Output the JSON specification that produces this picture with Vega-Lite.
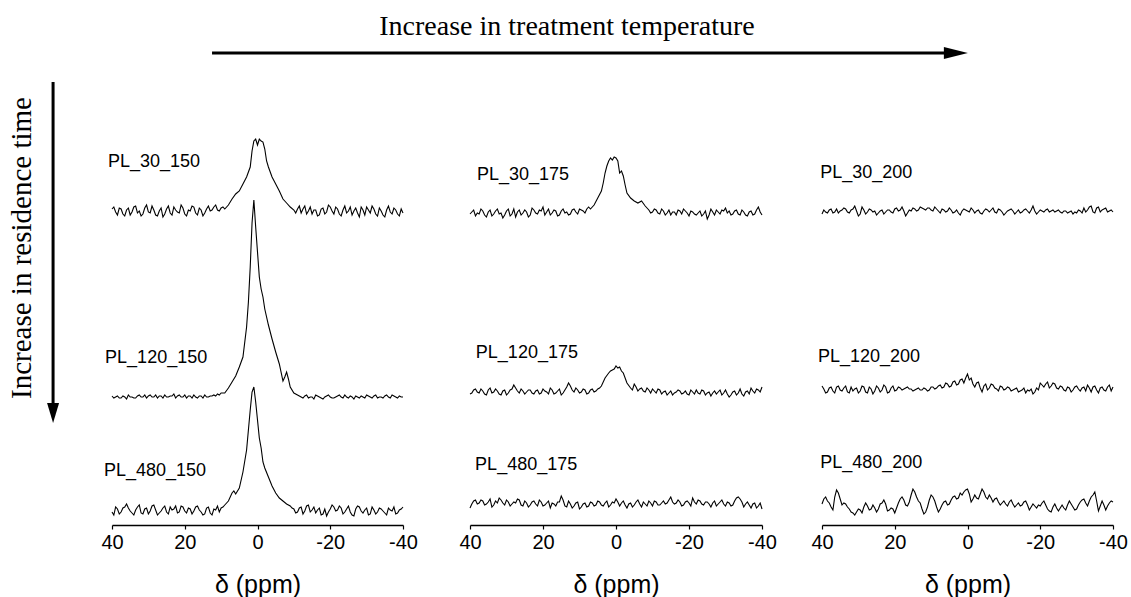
{
"$schema": "https://vega.github.io/schema/vega-lite/v6.json",
"background": "white",
"padding": {"left": 8, "top": 13, "right": 5, "bottom": 0},
"title": {"text": "Increase in treatment temperature", "font": "Liberation Serif", "fontSize": 28, "fontWeight": "normal", "color": "black", "frame": "group", "anchor": "middle", "dx": 455, "offset": -1},
"datasets": {
"PL_30_150": [{"x":40,"y":2},{"x":39,"y":-1},{"x":38,"y":3},{"x":37,"y":-3},{"x":36,"y":1},{"x":35,"y":-4},{"x":34,"y":4},{"x":33,"y":-2},{"x":32,"y":-5},{"x":31,"y":3},{"x":30,"y":-1},{"x":29,"y":5},{"x":28,"y":-4},{"x":27,"y":0},{"x":26,"y":-6},{"x":25,"y":2},{"x":24,"y":-2},{"x":23,"y":4},{"x":22,"y":-1},{"x":21,"y":6},{"x":20,"y":-3},{"x":19,"y":1},{"x":18,"y":5},{"x":17,"y":-2},{"x":16,"y":3},{"x":15,"y":-5},{"x":14,"y":2},{"x":13,"y":0},{"x":12,"y":4},{"x":11,"y":1},{"x":10,"y":3},{"x":9,"y":2},{"x":8,"y":6},{"x":7,"y":12},{"x":6,"y":17},{"x":5,"y":20},{"x":4,"y":27},{"x":3,"y":34},{"x":2,"y":44},{"x":1.5,"y":60},{"x":1,"y":70},{"x":0.5,"y":72},{"x":0,"y":66},{"x":-0.5,"y":72},{"x":-1,"y":70},{"x":-1.5,"y":69},{"x":-2,"y":62},{"x":-2.5,"y":50},{"x":-3,"y":44},{"x":-4,"y":34},{"x":-5,"y":27},{"x":-6,"y":20},{"x":-7,"y":12},{"x":-8,"y":8},{"x":-9,"y":4},{"x":-10,"y":1},{"x":-11,"y":2},{"x":-12,"y":-2},{"x":-13,"y":5},{"x":-14,"y":0},{"x":-15,"y":-3},{"x":-16,"y":1},{"x":-17,"y":-4},{"x":-18,"y":3},{"x":-19,"y":-1},{"x":-20,"y":4},{"x":-21,"y":-3},{"x":-22,"y":2},{"x":-23,"y":-5},{"x":-24,"y":5},{"x":-25,"y":0},{"x":-26,"y":-4},{"x":-27,"y":3},{"x":-28,"y":-6},{"x":-29,"y":1},{"x":-30,"y":4},{"x":-31,"y":-2},{"x":-32,"y":2},{"x":-33,"y":-5},{"x":-34,"y":0},{"x":-35,"y":-6},{"x":-36,"y":5},{"x":-37,"y":-3},{"x":-38,"y":1},{"x":-39,"y":-5},{"x":-40,"y":-2},
{"x":39.5,"y":4},{"x":38.5,"y":-4},{"x":37.5,"y":2},{"x":36.5,"y":-5},{"x":35.5,"y":3},{"x":34.5,"y":-1},{"x":33.5,"y":5},{"x":32.5,"y":0},{"x":31.5,"y":-3},{"x":30.5,"y":6},{"x":29.5,"y":-2},{"x":28.5,"y":1},{"x":27.5,"y":-5},{"x":26.5,"y":3},{"x":25.5,"y":-3},{"x":24.5,"y":5},{"x":23.5,"y":-4},{"x":22.5,"y":1},{"x":21.5,"y":-2},{"x":20.5,"y":3},{"x":19.5,"y":-5},{"x":18.5,"y":0},{"x":17.5,"y":4},{"x":16.5,"y":-4},{"x":15.5,"y":1},{"x":14.5,"y":-2},{"x":13.5,"y":5},{"x":12.5,"y":1},{"x":11.5,"y":6},{"x":10.5,"y":0},{"x":9.5,"y":4},{"x":-10.5,"y":-2},{"x":-11.5,"y":5},{"x":-12.5,"y":2},{"x":-13.5,"y":-3},{"x":-14.5,"y":4},{"x":-15.5,"y":1},{"x":-16.5,"y":-5},{"x":-17.5,"y":2},{"x":-18.5,"y":-3},{"x":-19.5,"y":6},{"x":-20.5,"y":0},{"x":-21.5,"y":4},{"x":-22.5,"y":-3},{"x":-23.5,"y":1},{"x":-24.5,"y":-2},{"x":-25.5,"y":4},{"x":-26.5,"y":0},{"x":-27.5,"y":-2},{"x":-28.5,"y":4},{"x":-29.5,"y":-4},{"x":-30.5,"y":1},{"x":-31.5,"y":5},{"x":-32.5,"y":-3},{"x":-33.5,"y":3},{"x":-34.5,"y":-4},{"x":-35.5,"y":1},{"x":-36.5,"y":-1},{"x":-37.5,"y":3},{"x":-38.5,"y":-3},{"x":-39.5,"y":2}],
"PL_120_150": [{"x":40,"y":1},{"x":39,"y":0},{"x":38,"y":-1},{"x":37,"y":1},{"x":36,"y":-2},{"x":35,"y":0},{"x":34,"y":-1},{"x":33,"y":1},{"x":32,"y":0},{"x":31,"y":2},{"x":30,"y":1},{"x":29,"y":0},{"x":28,"y":2},{"x":27,"y":1},{"x":26,"y":-1},{"x":25,"y":0},{"x":24,"y":1},{"x":23,"y":3},{"x":22,"y":1},{"x":21,"y":0},{"x":20,"y":2},{"x":19,"y":1},{"x":18,"y":-1},{"x":17,"y":0},{"x":16,"y":1},{"x":15,"y":-1},{"x":14,"y":0},{"x":13,"y":1},{"x":12,"y":2},{"x":11,"y":3},{"x":10,"y":4},{"x":9,"y":4},{"x":8,"y":9},{"x":7,"y":15},{"x":6,"y":21},{"x":5,"y":30},{"x":4,"y":40},{"x":3,"y":70},{"x":2.5,"y":95},{"x":2,"y":130},{"x":1.5,"y":174},{"x":1,"y":197},{"x":0.5,"y":170},{"x":0,"y":145},{"x":-0.5,"y":120},{"x":-1,"y":108},{"x":-1.5,"y":100},{"x":-2,"y":88},{"x":-3,"y":72},{"x":-4,"y":58},{"x":-5,"y":45},{"x":-6,"y":33},{"x":-7,"y":16},{"x":-7.5,"y":20},{"x":-8,"y":25},{"x":-8.5,"y":18},{"x":-9,"y":10},{"x":-10,"y":4},{"x":-11,"y":2},{"x":-12,"y":0},{"x":-13,"y":1},{"x":-14,"y":-1},{"x":-15,"y":0},{"x":-16,"y":2},{"x":-17,"y":0},{"x":-18,"y":-2},{"x":-19,"y":1},{"x":-20,"y":0},{"x":-21,"y":-1},{"x":-22,"y":1},{"x":-23,"y":0},{"x":-24,"y":2},{"x":-25,"y":-1},{"x":-26,"y":0},{"x":-27,"y":1},{"x":-28,"y":-1},{"x":-29,"y":0},{"x":-30,"y":2},{"x":-31,"y":0},{"x":-32,"y":1},{"x":-33,"y":-1},{"x":-34,"y":0},{"x":-35,"y":1},{"x":-36,"y":0},{"x":-37,"y":2},{"x":-38,"y":0},{"x":-39,"y":1},{"x":-40,"y":0},
{"x":39.5,"y":-1},{"x":38.5,"y":1},{"x":37.5,"y":-1},{"x":36.5,"y":0},{"x":35.5,"y":2},{"x":34.5,"y":0},{"x":33.5,"y":-1},{"x":32.5,"y":2},{"x":31.5,"y":0},{"x":30.5,"y":-1},{"x":29.5,"y":2},{"x":28.5,"y":0},{"x":27.5,"y":-1},{"x":26.5,"y":1},{"x":25.5,"y":2},{"x":24.5,"y":0},{"x":23.5,"y":1},{"x":22.5,"y":-1},{"x":21.5,"y":2},{"x":20.5,"y":0},{"x":19.5,"y":-1},{"x":18.5,"y":1},{"x":17.5,"y":2},{"x":16.5,"y":-1},{"x":15.5,"y":1},{"x":14.5,"y":2},{"x":13.5,"y":0},{"x":12.5,"y":1},{"x":11.5,"y":1},{"x":10.5,"y":2},{"x":-11.5,"y":1},{"x":-12.5,"y":-1},{"x":-13.5,"y":2},{"x":-14.5,"y":0},{"x":-15.5,"y":-2},{"x":-16.5,"y":1},{"x":-17.5,"y":-1},{"x":-18.5,"y":0},{"x":-19.5,"y":2},{"x":-20.5,"y":-1},{"x":-21.5,"y":0},{"x":-22.5,"y":2},{"x":-23.5,"y":-1},{"x":-24.5,"y":0},{"x":-25.5,"y":1},{"x":-26.5,"y":-2},{"x":-27.5,"y":0},{"x":-28.5,"y":1},{"x":-29.5,"y":-1},{"x":-30.5,"y":1},{"x":-31.5,"y":-1},{"x":-32.5,"y":2},{"x":-33.5,"y":0},{"x":-34.5,"y":-1},{"x":-35.5,"y":2},{"x":-36.5,"y":-1},{"x":-37.5,"y":1},{"x":-38.5,"y":-1},{"x":-39.5,"y":0}],
"PL_480_150": [{"x":40,"y":-2},{"x":39,"y":3},{"x":38,"y":-4},{"x":37,"y":2},{"x":36,"y":6},{"x":35,"y":-1},{"x":34,"y":-5},{"x":33,"y":3},{"x":32,"y":-3},{"x":31,"y":1},{"x":30,"y":-4},{"x":29,"y":4},{"x":28,"y":0},{"x":27,"y":-3},{"x":26,"y":2},{"x":25,"y":-2},{"x":24,"y":3},{"x":23,"y":1},{"x":22,"y":-3},{"x":21,"y":4},{"x":20,"y":-1},{"x":19,"y":2},{"x":18,"y":-4},{"x":17,"y":3},{"x":16,"y":0},{"x":15,"y":-5},{"x":14,"y":2},{"x":13,"y":-3},{"x":12,"y":1},{"x":11,"y":4},{"x":10,"y":2},{"x":9,"y":5},{"x":8,"y":9},{"x":7,"y":17},{"x":6.5,"y":19},{"x":6,"y":16},{"x":5,"y":22},{"x":4,"y":38},{"x":3,"y":60},{"x":2.5,"y":80},{"x":2,"y":100},{"x":1.5,"y":118},{"x":1,"y":123},{"x":0.5,"y":108},{"x":0,"y":90},{"x":-0.5,"y":72},{"x":-1,"y":62},{"x":-1.5,"y":48},{"x":-2,"y":42},{"x":-3,"y":33},{"x":-4,"y":24},{"x":-5,"y":17},{"x":-6,"y":12},{"x":-7,"y":9},{"x":-8,"y":6},{"x":-9,"y":4},{"x":-10,"y":1},{"x":-11,"y":-2},{"x":-12,"y":3},{"x":-13,"y":-1},{"x":-14,"y":5},{"x":-15,"y":0},{"x":-16,"y":-3},{"x":-17,"y":2},{"x":-18,"y":-4},{"x":-19,"y":-6},{"x":-20,"y":1},{"x":-21,"y":3},{"x":-22,"y":0},{"x":-23,"y":2},{"x":-24,"y":-2},{"x":-25,"y":4},{"x":-26,"y":-5},{"x":-27,"y":1},{"x":-28,"y":3},{"x":-29,"y":-3},{"x":-30,"y":2},{"x":-31,"y":-4},{"x":-32,"y":0},{"x":-33,"y":-2},{"x":-34,"y":1},{"x":-35,"y":-3},{"x":-36,"y":2},{"x":-37,"y":-1},{"x":-38,"y":-4},{"x":-39,"y":0},{"x":-40,"y":3},
{"x":39.5,"y":-5},{"x":38.5,"y":1},{"x":37.5,"y":-2},{"x":36.5,"y":3},{"x":35.5,"y":2},{"x":34.5,"y":-3},{"x":33.5,"y":0},{"x":32.5,"y":5},{"x":31.5,"y":-4},{"x":30.5,"y":2},{"x":29.5,"y":-1},{"x":28.5,"y":5},{"x":27.5,"y":-5},{"x":26.5,"y":-1},{"x":25.5,"y":4},{"x":24.5,"y":-4},{"x":23.5,"y":0},{"x":22.5,"y":4},{"x":21.5,"y":-2},{"x":20.5,"y":3},{"x":19.5,"y":-3},{"x":18.5,"y":1},{"x":17.5,"y":-1},{"x":16.5,"y":4},{"x":15.5,"y":-2},{"x":14.5,"y":-4},{"x":13.5,"y":3},{"x":12.5,"y":-5},{"x":11.5,"y":0},{"x":10.5,"y":-2},{"x":9.5,"y":3},{"x":-9.5,"y":2},{"x":-10.5,"y":-3},{"x":-11.5,"y":2},{"x":-12.5,"y":-4},{"x":-13.5,"y":4},{"x":-14.5,"y":-2},{"x":-15.5,"y":3},{"x":-16.5,"y":0},{"x":-17.5,"y":-5},{"x":-18.5,"y":1},{"x":-19.5,"y":-2},{"x":-20.5,"y":5},{"x":-21.5,"y":-1},{"x":-22.5,"y":4},{"x":-23.5,"y":-4},{"x":-24.5,"y":1},{"x":-25.5,"y":-2},{"x":-26.5,"y":-6},{"x":-27.5,"y":4},{"x":-28.5,"y":-1},{"x":-29.5,"y":0},{"x":-30.5,"y":-5},{"x":-31.5,"y":3},{"x":-32.5,"y":-4},{"x":-33.5,"y":2},{"x":-34.5,"y":-1},{"x":-35.5,"y":-5},{"x":-36.5,"y":0},{"x":-37.5,"y":3},{"x":-38.5,"y":-3},{"x":-39.5,"y":1}],
"PL_30_175": [{"x":40,"y":-1},{"x":39,"y":3},{"x":38,"y":0},{"x":37,"y":4},{"x":36,"y":-2},{"x":35,"y":1},{"x":34,"y":-3},{"x":33,"y":2},{"x":32,"y":-1},{"x":31,"y":-5},{"x":30,"y":2},{"x":29,"y":-3},{"x":28,"y":4},{"x":27,"y":1},{"x":26,"y":-2},{"x":25,"y":3},{"x":24,"y":-4},{"x":23,"y":5},{"x":22,"y":0},{"x":21,"y":3},{"x":20,"y":6},{"x":19,"y":1},{"x":18,"y":-2},{"x":17,"y":3},{"x":16,"y":-3},{"x":15,"y":2},{"x":14,"y":0},{"x":13,"y":-2},{"x":12,"y":3},{"x":11,"y":1},{"x":10,"y":4},{"x":9,"y":2},{"x":8,"y":4},{"x":7,"y":4},{"x":6,"y":8},{"x":5,"y":15},{"x":4,"y":22},{"x":3.5,"y":30},{"x":3,"y":40},{"x":2.5,"y":47},{"x":2,"y":52},{"x":1.5,"y":55},{"x":1,"y":53},{"x":0.5,"y":56},{"x":0,"y":55},{"x":-0.5,"y":52},{"x":-1,"y":40},{"x":-1.5,"y":42},{"x":-2,"y":37},{"x":-2.5,"y":28},{"x":-3,"y":20},{"x":-4,"y":15},{"x":-5,"y":12},{"x":-6,"y":10},{"x":-7,"y":12},{"x":-8,"y":7},{"x":-9,"y":3},{"x":-10,"y":1},{"x":-11,"y":3},{"x":-12,"y":-1},{"x":-13,"y":2},{"x":-14,"y":0},{"x":-15,"y":-2},{"x":-16,"y":1},{"x":-17,"y":3},{"x":-18,"y":-1},{"x":-19,"y":2},{"x":-20,"y":-3},{"x":-21,"y":1},{"x":-22,"y":-2},{"x":-23,"y":2},{"x":-24,"y":-1},{"x":-25,"y":-6},{"x":-26,"y":4},{"x":-27,"y":-2},{"x":-28,"y":1},{"x":-29,"y":3},{"x":-30,"y":5},{"x":-31,"y":2},{"x":-32,"y":-1},{"x":-33,"y":3},{"x":-34,"y":-2},{"x":-35,"y":1},{"x":-36,"y":-3},{"x":-37,"y":2},{"x":-38,"y":-1},{"x":-39,"y":6},{"x":-40,"y":-2},
{"x":39.5,"y":1},{"x":38.5,"y":-3},{"x":37.5,"y":-1},{"x":36.5,"y":2},{"x":35.5,"y":-4},{"x":34.5,"y":3},{"x":33.5,"y":-1},{"x":32.5,"y":4},{"x":31.5,"y":0},{"x":30.5,"y":-2},{"x":29.5,"y":4},{"x":28.5,"y":-1},{"x":27.5,"y":-4},{"x":26.5,"y":3},{"x":25.5,"y":0},{"x":24.5,"y":1},{"x":23.5,"y":-2},{"x":22.5,"y":3},{"x":21.5,"y":-1},{"x":20.5,"y":2},{"x":19.5,"y":-2},{"x":18.5,"y":4},{"x":17.5,"y":0},{"x":16.5,"y":2},{"x":15.5,"y":-2},{"x":14.5,"y":4},{"x":13.5,"y":1},{"x":12.5,"y":-1},{"x":11.5,"y":4},{"x":10.5,"y":-1},{"x":9.5,"y":3},{"x":8.5,"y":0},{"x":7.5,"y":6},{"x":-9.5,"y":0},{"x":-10.5,"y":4},{"x":-11.5,"y":0},{"x":-12.5,"y":4},{"x":-13.5,"y":-2},{"x":-14.5,"y":3},{"x":-15.5,"y":1},{"x":-16.5,"y":-2},{"x":-17.5,"y":2},{"x":-18.5,"y":4},{"x":-19.5,"y":0},{"x":-20.5,"y":2},{"x":-21.5,"y":-1},{"x":-22.5,"y":0},{"x":-23.5,"y":-3},{"x":-24.5,"y":2},{"x":-25.5,"y":-2},{"x":-26.5,"y":1},{"x":-27.5,"y":3},{"x":-28.5,"y":-1},{"x":-29.5,"y":2},{"x":-30.5,"y":0},{"x":-31.5,"y":-2},{"x":-32.5,"y":2},{"x":-33.5,"y":-1},{"x":-34.5,"y":3},{"x":-35.5,"y":-2},{"x":-36.5,"y":1},{"x":-37.5,"y":-2},{"x":-38.5,"y":3},{"x":-39.5,"y":1}],
"PL_120_175": [{"x":40,"y":-1},{"x":39,"y":3},{"x":38,"y":1},{"x":37,"y":4},{"x":36,"y":-1},{"x":35,"y":3},{"x":34,"y":0},{"x":33,"y":4},{"x":32,"y":-1},{"x":31,"y":2},{"x":30,"y":-2},{"x":29,"y":3},{"x":28,"y":8},{"x":27,"y":2},{"x":26,"y":4},{"x":25,"y":-1},{"x":24,"y":3},{"x":23,"y":0},{"x":22,"y":2},{"x":21,"y":-1},{"x":20,"y":4},{"x":19,"y":1},{"x":18,"y":5},{"x":17,"y":-1},{"x":16,"y":2},{"x":15,"y":-2},{"x":14,"y":3},{"x":13,"y":10},{"x":12,"y":3},{"x":11,"y":5},{"x":10,"y":0},{"x":9,"y":4},{"x":8,"y":-1},{"x":7,"y":3},{"x":6,"y":1},{"x":5,"y":4},{"x":4,"y":7},{"x":3,"y":15},{"x":2,"y":20},{"x":1.5,"y":22},{"x":1,"y":23},{"x":0.5,"y":24},{"x":0,"y":27},{"x":-0.5,"y":25},{"x":-1,"y":26},{"x":-1.5,"y":22},{"x":-2,"y":20},{"x":-3,"y":10},{"x":-4,"y":5},{"x":-5,"y":9},{"x":-6,"y":2},{"x":-7,"y":5},{"x":-8,"y":1},{"x":-9,"y":3},{"x":-10,"y":4},{"x":-11,"y":0},{"x":-12,"y":3},{"x":-13,"y":1},{"x":-14,"y":-2},{"x":-15,"y":2},{"x":-16,"y":0},{"x":-17,"y":3},{"x":-18,"y":-1},{"x":-19,"y":2},{"x":-20,"y":-2},{"x":-21,"y":1},{"x":-22,"y":3},{"x":-23,"y":-1},{"x":-24,"y":2},{"x":-25,"y":0},{"x":-26,"y":-3},{"x":-27,"y":2},{"x":-28,"y":1},{"x":-29,"y":-2},{"x":-30,"y":3},{"x":-31,"y":-4},{"x":-32,"y":1},{"x":-33,"y":-2},{"x":-34,"y":4},{"x":-35,"y":-3},{"x":-36,"y":2},{"x":-37,"y":5},{"x":-38,"y":0},{"x":-39,"y":3},{"x":-40,"y":6},
{"x":39.5,"y":0},{"x":38.5,"y":4},{"x":37.5,"y":0},{"x":36.5,"y":2},{"x":35.5,"y":-2},{"x":34.5,"y":5},{"x":33.5,"y":1},{"x":32.5,"y":2},{"x":31.5,"y":-2},{"x":30.5,"y":3},{"x":29.5,"y":0},{"x":28.5,"y":4},{"x":27.5,"y":5},{"x":26.5,"y":0},{"x":25.5,"y":2},{"x":24.5,"y":1},{"x":23.5,"y":3},{"x":22.5,"y":-1},{"x":21.5,"y":3},{"x":20.5,"y":0},{"x":19.5,"y":2},{"x":18.5,"y":-1},{"x":17.5,"y":3},{"x":16.5,"y":0},{"x":15.5,"y":4},{"x":14.5,"y":0},{"x":13.5,"y":6},{"x":12.5,"y":7},{"x":11.5,"y":1},{"x":10.5,"y":3},{"x":9.5,"y":1},{"x":8.5,"y":3},{"x":7.5,"y":0},{"x":6.5,"y":4},{"x":5.5,"y":2},{"x":4.5,"y":5},{"x":-4.5,"y":3},{"x":-5.5,"y":6},{"x":-6.5,"y":4},{"x":-7.5,"y":2},{"x":-8.5,"y":5},{"x":-9.5,"y":0},{"x":-10.5,"y":2},{"x":-11.5,"y":4},{"x":-12.5,"y":-1},{"x":-13.5,"y":2},{"x":-14.5,"y":0},{"x":-15.5,"y":-2},{"x":-16.5,"y":1},{"x":-17.5,"y":2},{"x":-18.5,"y":0},{"x":-19.5,"y":-1},{"x":-20.5,"y":3},{"x":-21.5,"y":-1},{"x":-22.5,"y":0},{"x":-23.5,"y":3},{"x":-24.5,"y":-2},{"x":-25.5,"y":1},{"x":-26.5,"y":0},{"x":-27.5,"y":-1},{"x":-28.5,"y":3},{"x":-29.5,"y":0},{"x":-30.5,"y":-1},{"x":-31.5,"y":-2},{"x":-32.5,"y":2},{"x":-33.5,"y":0},{"x":-34.5,"y":-1},{"x":-35.5,"y":1},{"x":-36.5,"y":-1},{"x":-37.5,"y":2},{"x":-38.5,"y":4},{"x":-39.5,"y":1}],
"PL_480_175": [{"x":40,"y":-3},{"x":39,"y":4},{"x":38,"y":1},{"x":37,"y":5},{"x":36,"y":0},{"x":35,"y":3},{"x":34,"y":-2},{"x":33,"y":4},{"x":32,"y":7},{"x":31,"y":2},{"x":30,"y":5},{"x":29,"y":-1},{"x":28,"y":3},{"x":27,"y":6},{"x":26,"y":0},{"x":25,"y":4},{"x":24,"y":-2},{"x":23,"y":3},{"x":22,"y":1},{"x":21,"y":5},{"x":20,"y":-1},{"x":19,"y":2},{"x":18,"y":-3},{"x":17,"y":1},{"x":16,"y":3},{"x":15,"y":9},{"x":14,"y":-1},{"x":13,"y":4},{"x":12,"y":-3},{"x":11,"y":2},{"x":10,"y":-4},{"x":9,"y":1},{"x":8,"y":-2},{"x":7,"y":3},{"x":6,"y":-1},{"x":5,"y":4},{"x":4,"y":0},{"x":3,"y":2},{"x":2,"y":-2},{"x":1,"y":3},{"x":0,"y":6},{"x":-1,"y":-1},{"x":-2,"y":4},{"x":-3,"y":-3},{"x":-4,"y":2},{"x":-5,"y":0},{"x":-6,"y":5},{"x":-7,"y":-2},{"x":-8,"y":1},{"x":-9,"y":4},{"x":-10,"y":-1},{"x":-11,"y":3},{"x":-12,"y":0},{"x":-13,"y":4},{"x":-14,"y":2},{"x":-15,"y":8},{"x":-16,"y":1},{"x":-17,"y":5},{"x":-18,"y":-1},{"x":-19,"y":3},{"x":-20,"y":2},{"x":-21,"y":7},{"x":-22,"y":1},{"x":-23,"y":4},{"x":-24,"y":0},{"x":-25,"y":3},{"x":-26,"y":-2},{"x":-27,"y":4},{"x":-28,"y":1},{"x":-29,"y":5},{"x":-30,"y":-1},{"x":-31,"y":2},{"x":-32,"y":0},{"x":-33,"y":7},{"x":-34,"y":6},{"x":-35,"y":-2},{"x":-36,"y":3},{"x":-37,"y":-3},{"x":-38,"y":2},{"x":-39,"y":-1},{"x":-40,"y":-4},
{"x":39.5,"y":1},{"x":38.5,"y":5},{"x":37.5,"y":2},{"x":36.5,"y":4},{"x":35.5,"y":1},{"x":34.5,"y":6},{"x":33.5,"y":0},{"x":32.5,"y":2},{"x":31.5,"y":5},{"x":30.5,"y":0},{"x":29.5,"y":3},{"x":28.5,"y":1},{"x":27.5,"y":2},{"x":26.5,"y":5},{"x":25.5,"y":-1},{"x":24.5,"y":2},{"x":23.5,"y":0},{"x":22.5,"y":4},{"x":21.5,"y":-1},{"x":20.5,"y":3},{"x":19.5,"y":0},{"x":18.5,"y":4},{"x":17.5,"y":2},{"x":16.5,"y":-1},{"x":15.5,"y":3},{"x":14.5,"y":5},{"x":13.5,"y":-2},{"x":12.5,"y":1},{"x":11.5,"y":-1},{"x":10.5,"y":3},{"x":9.5,"y":-2},{"x":8.5,"y":2},{"x":7.5,"y":-1},{"x":6.5,"y":2},{"x":5.5,"y":0},{"x":4.5,"y":3},{"x":3.5,"y":-1},{"x":2.5,"y":4},{"x":1.5,"y":0},{"x":0.5,"y":2},{"x":-0.5,"y":3},{"x":-1.5,"y":2},{"x":-2.5,"y":0},{"x":-3.5,"y":1},{"x":-4.5,"y":-2},{"x":-5.5,"y":3},{"x":-6.5,"y":1},{"x":-7.5,"y":3},{"x":-8.5,"y":-1},{"x":-9.5,"y":2},{"x":-10.5,"y":4},{"x":-11.5,"y":0},{"x":-12.5,"y":2},{"x":-13.5,"y":1},{"x":-14.5,"y":5},{"x":-15.5,"y":3},{"x":-16.5,"y":2},{"x":-17.5,"y":3},{"x":-18.5,"y":0},{"x":-19.5,"y":4},{"x":-20.5,"y":-1},{"x":-21.5,"y":3},{"x":-22.5,"y":5},{"x":-23.5,"y":1},{"x":-24.5,"y":3},{"x":-25.5,"y":1},{"x":-26.5,"y":2},{"x":-27.5,"y":-1},{"x":-28.5,"y":3},{"x":-29.5,"y":1},{"x":-30.5,"y":3},{"x":-31.5,"y":-1},{"x":-32.5,"y":4},{"x":-33.5,"y":8},{"x":-34.5,"y":3},{"x":-35.5,"y":1},{"x":-36.5,"y":0},{"x":-37.5,"y":1},{"x":-38.5,"y":-3},{"x":-39.5,"y":2}],
"PL_30_200": [{"x":40,"y":-2},{"x":39,"y":0},{"x":38,"y":2},{"x":37,"y":-1},{"x":36,"y":3},{"x":35,"y":1},{"x":34,"y":4},{"x":33,"y":0},{"x":32,"y":2},{"x":31,"y":6},{"x":30,"y":-4},{"x":29,"y":5},{"x":28,"y":-2},{"x":27,"y":3},{"x":26,"y":0},{"x":25,"y":-3},{"x":24,"y":1},{"x":23,"y":-2},{"x":22,"y":2},{"x":21,"y":0},{"x":20,"y":3},{"x":19,"y":1},{"x":18,"y":5},{"x":17,"y":-4},{"x":16,"y":2},{"x":15,"y":4},{"x":14,"y":1},{"x":13,"y":5},{"x":12,"y":3},{"x":11,"y":4},{"x":10,"y":2},{"x":9,"y":5},{"x":8,"y":1},{"x":7,"y":3},{"x":6,"y":0},{"x":5,"y":4},{"x":4,"y":-1},{"x":3,"y":2},{"x":2,"y":-3},{"x":1,"y":3},{"x":0,"y":1},{"x":-1,"y":4},{"x":-2,"y":-1},{"x":-3,"y":2},{"x":-4,"y":-2},{"x":-5,"y":3},{"x":-6,"y":0},{"x":-7,"y":4},{"x":-8,"y":-1},{"x":-9,"y":2},{"x":-10,"y":-3},{"x":-11,"y":1},{"x":-12,"y":3},{"x":-13,"y":-2},{"x":-14,"y":2},{"x":-15,"y":0},{"x":-16,"y":3},{"x":-17,"y":-1},{"x":-18,"y":6},{"x":-19,"y":-2},{"x":-20,"y":2},{"x":-21,"y":0},{"x":-22,"y":3},{"x":-23,"y":1},{"x":-24,"y":0},{"x":-25,"y":2},{"x":-26,"y":-1},{"x":-27,"y":1},{"x":-28,"y":0},{"x":-29,"y":-2},{"x":-30,"y":-1},{"x":-31,"y":1},{"x":-32,"y":4},{"x":-33,"y":2},{"x":-34,"y":6},{"x":-35,"y":-1},{"x":-36,"y":5},{"x":-37,"y":2},{"x":-38,"y":4},{"x":-39,"y":1},{"x":-40,"y":0},
{"x":39.5,"y":2},{"x":38.5,"y":-1},{"x":37.5,"y":3},{"x":36.5,"y":0},{"x":35.5,"y":-1},{"x":34.5,"y":2},{"x":33.5,"y":3},{"x":32.5,"y":-1},{"x":31.5,"y":3},{"x":30.5,"y":1},{"x":29.5,"y":-2},{"x":28.5,"y":2},{"x":27.5,"y":0},{"x":26.5,"y":2},{"x":25.5,"y":1},{"x":24.5,"y":-1},{"x":23.5,"y":2},{"x":22.5,"y":0},{"x":21.5,"y":2},{"x":20.5,"y":-1},{"x":19.5,"y":4},{"x":18.5,"y":2},{"x":17.5,"y":1},{"x":16.5,"y":-1},{"x":15.5,"y":1},{"x":14.5,"y":3},{"x":13.5,"y":2},{"x":12.5,"y":4},{"x":11.5,"y":2},{"x":10.5,"y":4},{"x":9.5,"y":1},{"x":8.5,"y":3},{"x":7.5,"y":-1},{"x":6.5,"y":2},{"x":5.5,"y":1},{"x":4.5,"y":2},{"x":3.5,"y":0},{"x":2.5,"y":-1},{"x":1.5,"y":1},{"x":0.5,"y":2},{"x":-0.5,"y":0},{"x":-1.5,"y":2},{"x":-2.5,"y":1},{"x":-3.5,"y":-1},{"x":-4.5,"y":1},{"x":-5.5,"y":2},{"x":-6.5,"y":2},{"x":-7.5,"y":0},{"x":-8.5,"y":3},{"x":-9.5,"y":0},{"x":-10.5,"y":-1},{"x":-11.5,"y":2},{"x":-12.5,"y":1},{"x":-13.5,"y":0},{"x":-14.5,"y":-1},{"x":-15.5,"y":2},{"x":-16.5,"y":1},{"x":-17.5,"y":2},{"x":-18.5,"y":1},{"x":-19.5,"y":0},{"x":-20.5,"y":1},{"x":-21.5,"y":2},{"x":-22.5,"y":0},{"x":-23.5,"y":2},{"x":-24.5,"y":1},{"x":-25.5,"y":0},{"x":-26.5,"y":1},{"x":-27.5,"y":-1},{"x":-28.5,"y":1},{"x":-29.5,"y":0},{"x":-30.5,"y":2},{"x":-31.5,"y":-1},{"x":-32.5,"y":0},{"x":-33.5,"y":5},{"x":-34.5,"y":0},{"x":-35.5,"y":4},{"x":-36.5,"y":0},{"x":-37.5,"y":3},{"x":-38.5,"y":0},{"x":-39.5,"y":2}],
"PL_120_200": [{"x":40,"y":4},{"x":39,"y":-3},{"x":38,"y":2},{"x":37,"y":-1},{"x":36,"y":3},{"x":35,"y":0},{"x":34,"y":2},{"x":33,"y":-2},{"x":32,"y":3},{"x":31,"y":1},{"x":30,"y":-3},{"x":29,"y":4},{"x":28,"y":-2},{"x":27,"y":3},{"x":26,"y":-4},{"x":25,"y":4},{"x":24,"y":-2},{"x":23,"y":5},{"x":22,"y":-3},{"x":21,"y":2},{"x":20,"y":-1},{"x":19,"y":3},{"x":18,"y":0},{"x":17,"y":2},{"x":16,"y":1},{"x":15,"y":-1},{"x":14,"y":1},{"x":13,"y":0},{"x":12,"y":2},{"x":11,"y":-1},{"x":10,"y":3},{"x":9,"y":1},{"x":8,"y":4},{"x":7,"y":2},{"x":6,"y":7},{"x":5,"y":3},{"x":4,"y":8},{"x":3,"y":5},{"x":2,"y":10},{"x":1,"y":7},{"x":0.5,"y":12},{"x":0,"y":16},{"x":-0.5,"y":10},{"x":-1,"y":12},{"x":-2,"y":3},{"x":-3,"y":8},{"x":-4,"y":-2},{"x":-5,"y":6},{"x":-6,"y":2},{"x":-7,"y":5},{"x":-8,"y":1},{"x":-9,"y":4},{"x":-10,"y":0},{"x":-11,"y":3},{"x":-12,"y":-1},{"x":-13,"y":1},{"x":-14,"y":-2},{"x":-15,"y":0},{"x":-16,"y":-3},{"x":-17,"y":-1},{"x":-18,"y":-4},{"x":-19,"y":2},{"x":-20,"y":7},{"x":-21,"y":3},{"x":-22,"y":8},{"x":-23,"y":4},{"x":-24,"y":6},{"x":-25,"y":1},{"x":-26,"y":3},{"x":-27,"y":-1},{"x":-28,"y":2},{"x":-29,"y":0},{"x":-30,"y":4},{"x":-31,"y":-1},{"x":-32,"y":3},{"x":-33,"y":5},{"x":-34,"y":-2},{"x":-35,"y":4},{"x":-36,"y":-3},{"x":-37,"y":3},{"x":-38,"y":-1},{"x":-39,"y":5},{"x":-40,"y":3},
{"x":39.5,"y":1},{"x":38.5,"y":-2},{"x":37.5,"y":3},{"x":36.5,"y":-3},{"x":35.5,"y":4},{"x":34.5,"y":-1},{"x":33.5,"y":4},{"x":32.5,"y":-3},{"x":31.5,"y":-1},{"x":30.5,"y":2},{"x":29.5,"y":-1},{"x":28.5,"y":3},{"x":27.5,"y":-3},{"x":26.5,"y":1},{"x":25.5,"y":-1},{"x":24.5,"y":2},{"x":23.5,"y":0},{"x":22.5,"y":3},{"x":21.5,"y":-2},{"x":20.5,"y":4},{"x":19.5,"y":0},{"x":18.5,"y":2},{"x":17.5,"y":1},{"x":16.5,"y":3},{"x":15.5,"y":1},{"x":14.5,"y":0},{"x":13.5,"y":2},{"x":12.5,"y":0},{"x":11.5,"y":1},{"x":10.5,"y":0},{"x":9.5,"y":3},{"x":8.5,"y":2},{"x":7.5,"y":5},{"x":6.5,"y":3},{"x":5.5,"y":6},{"x":4.5,"y":4},{"x":3.5,"y":9},{"x":2.5,"y":6},{"x":1.5,"y":11},{"x":-1.5,"y":6},{"x":-2.5,"y":7},{"x":-3.5,"y":2},{"x":-4.5,"y":4},{"x":-5.5,"y":0},{"x":-6.5,"y":6},{"x":-7.5,"y":2},{"x":-8.5,"y":-1},{"x":-9.5,"y":3},{"x":-10.5,"y":1},{"x":-11.5,"y":2},{"x":-12.5,"y":0},{"x":-13.5,"y":2},{"x":-14.5,"y":-1},{"x":-15.5,"y":2},{"x":-16.5,"y":0},{"x":-17.5,"y":1},{"x":-18.5,"y":-2},{"x":-19.5,"y":0},{"x":-20.5,"y":5},{"x":-21.5,"y":6},{"x":-22.5,"y":2},{"x":-23.5,"y":7},{"x":-24.5,"y":2},{"x":-25.5,"y":4},{"x":-26.5,"y":0},{"x":-27.5,"y":3},{"x":-28.5,"y":-2},{"x":-29.5,"y":3},{"x":-30.5,"y":1},{"x":-31.5,"y":2},{"x":-32.5,"y":-1},{"x":-33.5,"y":2},{"x":-34.5,"y":3},{"x":-35.5,"y":0},{"x":-36.5,"y":2},{"x":-37.5,"y":0},{"x":-38.5,"y":3},{"x":-39.5,"y":-1}],
"PL_480_200": [{"x":40,"y":3},{"x":39,"y":10},{"x":38,"y":4},{"x":37,"y":-3},{"x":36,"y":17},{"x":35,"y":8},{"x":34,"y":4},{"x":33,"y":0},{"x":32,"y":-5},{"x":31,"y":-8},{"x":30,"y":-2},{"x":29,"y":-6},{"x":28,"y":4},{"x":27,"y":-3},{"x":26,"y":2},{"x":25,"y":-5},{"x":24,"y":3},{"x":23,"y":7},{"x":22,"y":-4},{"x":21,"y":-1},{"x":20,"y":-6},{"x":19,"y":4},{"x":18,"y":10},{"x":17,"y":2},{"x":16,"y":5},{"x":15,"y":18},{"x":14,"y":10},{"x":13,"y":4},{"x":12,"y":-7},{"x":11,"y":0},{"x":10,"y":12},{"x":9,"y":6},{"x":8,"y":-5},{"x":7,"y":2},{"x":6,"y":6},{"x":5,"y":3},{"x":4,"y":10},{"x":3,"y":8},{"x":2,"y":14},{"x":1,"y":15},{"x":0,"y":18},{"x":-1,"y":5},{"x":-2,"y":12},{"x":-3,"y":8},{"x":-4,"y":18},{"x":-5,"y":10},{"x":-6,"y":12},{"x":-7,"y":5},{"x":-8,"y":9},{"x":-9,"y":2},{"x":-10,"y":6},{"x":-11,"y":1},{"x":-12,"y":7},{"x":-13,"y":0},{"x":-14,"y":4},{"x":-15,"y":2},{"x":-16,"y":6},{"x":-17,"y":-3},{"x":-18,"y":3},{"x":-19,"y":-1},{"x":-20,"y":1},{"x":-21,"y":6},{"x":-22,"y":-2},{"x":-23,"y":-5},{"x":-24,"y":3},{"x":-25,"y":-4},{"x":-26,"y":2},{"x":-27,"y":-3},{"x":-28,"y":6},{"x":-29,"y":0},{"x":-30,"y":-2},{"x":-31,"y":5},{"x":-32,"y":8},{"x":-33,"y":1},{"x":-34,"y":10},{"x":-35,"y":15},{"x":-36,"y":-4},{"x":-37,"y":6},{"x":-38,"y":-3},{"x":-39,"y":4},{"x":-40,"y":5},
{"x":39.5,"y":8},{"x":38.5,"y":6},{"x":37.5,"y":0},{"x":36.5,"y":10},{"x":35.5,"y":14},{"x":34.5,"y":2},{"x":33.5,"y":3},{"x":32.5,"y":-2},{"x":31.5,"y":-6},{"x":30.5,"y":-5},{"x":29.5,"y":-3},{"x":28.5,"y":0},{"x":27.5,"y":1},{"x":26.5,"y":-2},{"x":25.5,"y":-1},{"x":24.5,"y":-2},{"x":23.5,"y":4},{"x":22.5,"y":3},{"x":21.5,"y":-3},{"x":20.5,"y":-2},{"x":19.5,"y":-1},{"x":18.5,"y":8},{"x":17.5,"y":7},{"x":16.5,"y":1},{"x":15.5,"y":12},{"x":14.5,"y":15},{"x":13.5,"y":6},{"x":12.5,"y":-2},{"x":11.5,"y":-5},{"x":10.5,"y":7},{"x":9.5,"y":10},{"x":8.5,"y":0},{"x":7.5,"y":-2},{"x":6.5,"y":5},{"x":5.5,"y":2},{"x":4.5,"y":7},{"x":3.5,"y":11},{"x":2.5,"y":9},{"x":1.5,"y":12},{"x":0.5,"y":17},{"x":-0.5,"y":13},{"x":-1.5,"y":8},{"x":-2.5,"y":9},{"x":-3.5,"y":13},{"x":-4.5,"y":15},{"x":-5.5,"y":8},{"x":-6.5,"y":9},{"x":-7.5,"y":8},{"x":-8.5,"y":5},{"x":-9.5,"y":4},{"x":-10.5,"y":3},{"x":-11.5,"y":5},{"x":-12.5,"y":3},{"x":-13.5,"y":2},{"x":-14.5,"y":1},{"x":-15.5,"y":5},{"x":-16.5,"y":2},{"x":-17.5,"y":0},{"x":-18.5,"y":1},{"x":-19.5,"y":2},{"x":-20.5,"y":4},{"x":-21.5,"y":2},{"x":-22.5,"y":-4},{"x":-23.5,"y":0},{"x":-24.5,"y":-1},{"x":-25.5,"y":-1},{"x":-26.5,"y":-1},{"x":-27.5,"y":2},{"x":-28.5,"y":3},{"x":-29.5,"y":-3},{"x":-30.5,"y":2},{"x":-31.5,"y":7},{"x":-32.5,"y":4},{"x":-33.5,"y":6},{"x":-34.5,"y":12},{"x":-35.5,"y":6},{"x":-36.5,"y":1},{"x":-37.5,"y":2},{"x":-38.5,"y":1},{"x":-39.5,"y":6}]
},
"spacing": 67,
"bounds": "flush",
"hconcat": [
{
"width": 291, "height": 485,
"resolve": {"scale": {"y": "independent"}},
"layer": [
{"layer": [
{"data": {"name": "PL_30_150"}, "mark": {"type": "line", "color": "black", "strokeWidth": 1.1},
 "encoding": {"x": {"field": "x", "type": "quantitative", "scale": {"domain": [40, -40], "nice": false, "zero": false}, "axis": {"values": [40,30,20,10,0,-10,-20,-30,-40], "labelExpr": "datum.value % 20 === 0 ? toString(datum.value) : ''", "title": "δ (ppm)", "labelFlush": false, "labelOverlap": false}},
  "y": {"field": "y", "type": "quantitative", "scale": {"domain": [-314, 171], "nice": false, "zero": false}, "axis": null}}},
{"data": {"values": [{"label": "PL_30_150"}]}, "mark": {"type": "text", "align": "left", "baseline": "middle", "font": "Liberation Sans", "fontSize": 18, "color": "black"},
 "encoding": {"x": {"datum": 41.1, "type": "quantitative", "scale": {"domain": [40, -40], "nice": false, "zero": false}},
  "y": {"datum": 49, "type": "quantitative", "scale": {"domain": [-314, 171], "nice": false, "zero": false}, "axis": null},
  "text": {"field": "label"}}}
]},
{"layer": [
{"data": {"name": "PL_120_150"}, "mark": {"type": "line", "color": "black", "strokeWidth": 1.1},
 "encoding": {"x": {"field": "x", "type": "quantitative", "scale": {"domain": [40, -40], "nice": false, "zero": false}, "axis": {"values": [40,30,20,10,0,-10,-20,-30,-40], "labelExpr": "datum.value % 20 === 0 ? toString(datum.value) : ''", "title": "δ (ppm)", "labelFlush": false, "labelOverlap": false}},
  "y": {"field": "y", "type": "quantitative", "scale": {"domain": [-128, 357], "nice": false, "zero": false}, "axis": null}}},
{"data": {"values": [{"label": "PL_120_150"}]}, "mark": {"type": "text", "align": "left", "baseline": "middle", "font": "Liberation Sans", "fontSize": 18, "color": "black"},
 "encoding": {"x": {"datum": 41.9, "type": "quantitative", "scale": {"domain": [40, -40], "nice": false, "zero": false}},
  "y": {"datum": 39, "type": "quantitative", "scale": {"domain": [-128, 357], "nice": false, "zero": false}, "axis": null},
  "text": {"field": "label"}}}
]},
{"layer": [
{"data": {"name": "PL_480_150"}, "mark": {"type": "line", "color": "black", "strokeWidth": 1.1},
 "encoding": {"x": {"field": "x", "type": "quantitative", "scale": {"domain": [40, -40], "nice": false, "zero": false}, "axis": {"values": [40,30,20,10,0,-10,-20,-30,-40], "labelExpr": "datum.value % 20 === 0 ? toString(datum.value) : ''", "title": "δ (ppm)", "labelFlush": false, "labelOverlap": false}},
  "y": {"field": "y", "type": "quantitative", "scale": {"domain": [-15, 470], "nice": false, "zero": false}, "axis": null}}},
{"data": {"values": [{"label": "PL_480_150"}]}, "mark": {"type": "text", "align": "left", "baseline": "middle", "font": "Liberation Sans", "fontSize": 18, "color": "black"},
 "encoding": {"x": {"datum": 42.2, "type": "quantitative", "scale": {"domain": [40, -40], "nice": false, "zero": false}},
  "y": {"datum": 39, "type": "quantitative", "scale": {"domain": [-15, 470], "nice": false, "zero": false}, "axis": null},
  "text": {"field": "label"}}}
]},
{"layer": [
{"data": {"values": [{"arrow": "temperature"}]}, "mark": {"type": "rule", "color": "black", "strokeWidth": 3},
 "encoding": {"x": {"datum": 12.5, "type": "quantitative", "scale": {"domain": [40, -40], "nice": false, "zero": false}}, "x2": {"datum": -190.4},
  "y": {"datum": 472, "type": "quantitative", "scale": {"domain": [0, 485], "nice": false, "zero": false}, "axis": null}}},
{"data": {"values": [{"arrow": "temperature"}]}, "mark": {"type": "point", "shape": "M-1,-0.5L1,0L-1,0.5Z", "filled": true, "opacity": 1, "color": "black", "size": 576},
 "encoding": {"x": {"datum": -192, "type": "quantitative", "scale": {"domain": [40, -40], "nice": false, "zero": false}},
  "y": {"datum": 472, "type": "quantitative", "scale": {"domain": [0, 485], "nice": false, "zero": false}, "axis": null}}},
{"data": {"values": [{"arrow": "time"}]}, "mark": {"type": "rule", "color": "black", "strokeWidth": 3},
 "encoding": {"x": {"datum": 56.2, "type": "quantitative", "scale": {"domain": [40, -40], "nice": false, "zero": false}},
  "y": {"datum": 443, "type": "quantitative", "scale": {"domain": [0, 485], "nice": false, "zero": false}, "axis": null}, "y2": {"datum": 118}}},
{"data": {"values": [{"arrow": "time"}]}, "mark": {"type": "point", "shape": "M-0.6,-1L0.6,-1L0,1Z", "filled": true, "opacity": 1, "color": "black", "size": 400},
 "encoding": {"x": {"datum": 56.2, "type": "quantitative", "scale": {"domain": [40, -40], "nice": false, "zero": false}},
  "y": {"datum": 112, "type": "quantitative", "scale": {"domain": [0, 485], "nice": false, "zero": false}, "axis": null}}},
{"data": {"values": [{"label": "Increase in residence time"}]}, "mark": {"type": "text", "angle": 270, "align": "center", "baseline": "middle", "font": "Liberation Serif", "fontSize": 29, "color": "black"},
 "encoding": {"x": {"datum": 64.7, "type": "quantitative", "scale": {"domain": [40, -40], "nice": false, "zero": false}},
  "y": {"datum": 277, "type": "quantitative", "scale": {"domain": [0, 485], "nice": false, "zero": false}, "axis": null},
  "text": {"field": "label"}}}
]}
]
},
{
"spacing": 60,
"bounds": "flush",
"hconcat": [
{
"width": 292, "height": 485,
"resolve": {"scale": {"y": "independent"}},
"layer": [
{"layer": [
{"data": {"name": "PL_30_175"}, "mark": {"type": "line", "color": "black", "strokeWidth": 1.1},
 "encoding": {"x": {"field": "x", "type": "quantitative", "scale": {"domain": [40, -40], "nice": false, "zero": false}, "axis": {"values": [40,30,20,10,0,-10,-20,-30,-40], "labelExpr": "datum.value % 20 === 0 ? toString(datum.value) : ''", "title": "δ (ppm)", "labelFlush": false, "labelOverlap": false}},
  "y": {"field": "y", "type": "quantitative", "scale": {"domain": [-312, 173], "nice": false, "zero": false}, "axis": null}}},
{"data": {"values": [{"label": "PL_30_175"}]}, "mark": {"type": "text", "align": "left", "baseline": "middle", "font": "Liberation Sans", "fontSize": 18, "color": "black"},
 "encoding": {"x": {"datum": 38.1, "type": "quantitative", "scale": {"domain": [40, -40], "nice": false, "zero": false}},
  "y": {"datum": 38, "type": "quantitative", "scale": {"domain": [-312, 173], "nice": false, "zero": false}, "axis": null},
  "text": {"field": "label"}}}
]},
{"layer": [
{"data": {"name": "PL_120_175"}, "mark": {"type": "line", "color": "black", "strokeWidth": 1.1},
 "encoding": {"x": {"field": "x", "type": "quantitative", "scale": {"domain": [40, -40], "nice": false, "zero": false}, "axis": {"values": [40,30,20,10,0,-10,-20,-30,-40], "labelExpr": "datum.value % 20 === 0 ? toString(datum.value) : ''", "title": "δ (ppm)", "labelFlush": false, "labelOverlap": false}},
  "y": {"field": "y", "type": "quantitative", "scale": {"domain": [-132, 353], "nice": false, "zero": false}, "axis": null}}},
{"data": {"values": [{"label": "PL_120_175"}]}, "mark": {"type": "text", "align": "left", "baseline": "middle", "font": "Liberation Sans", "fontSize": 18, "color": "black"},
 "encoding": {"x": {"datum": 38.4, "type": "quantitative", "scale": {"domain": [40, -40], "nice": false, "zero": false}},
  "y": {"datum": 40, "type": "quantitative", "scale": {"domain": [-132, 353], "nice": false, "zero": false}, "axis": null},
  "text": {"field": "label"}}}
]},
{"layer": [
{"data": {"name": "PL_480_175"}, "mark": {"type": "line", "color": "black", "strokeWidth": 1.1},
 "encoding": {"x": {"field": "x", "type": "quantitative", "scale": {"domain": [40, -40], "nice": false, "zero": false}, "axis": {"values": [40,30,20,10,0,-10,-20,-30,-40], "labelExpr": "datum.value % 20 === 0 ? toString(datum.value) : ''", "title": "δ (ppm)", "labelFlush": false, "labelOverlap": false}},
  "y": {"field": "y", "type": "quantitative", "scale": {"domain": [-20, 465], "nice": false, "zero": false}, "axis": null}}},
{"data": {"values": [{"label": "PL_480_175"}]}, "mark": {"type": "text", "align": "left", "baseline": "middle", "font": "Liberation Sans", "fontSize": 18, "color": "black"},
 "encoding": {"x": {"datum": 38.6, "type": "quantitative", "scale": {"domain": [40, -40], "nice": false, "zero": false}},
  "y": {"datum": 40, "type": "quantitative", "scale": {"domain": [-20, 465], "nice": false, "zero": false}, "axis": null},
  "text": {"field": "label"}}}
]}
]
},
{
"width": 291, "height": 485,
"resolve": {"scale": {"y": "independent"}},
"layer": [
{"layer": [
{"data": {"name": "PL_30_200"}, "mark": {"type": "line", "color": "black", "strokeWidth": 1.1},
 "encoding": {"x": {"field": "x", "type": "quantitative", "scale": {"domain": [40, -40], "nice": false, "zero": false}, "axis": {"values": [40,30,20,10,0,-10,-20,-30,-40], "labelExpr": "datum.value % 20 === 0 ? toString(datum.value) : ''", "title": "δ (ppm)", "labelFlush": false, "labelOverlap": false}},
  "y": {"field": "y", "type": "quantitative", "scale": {"domain": [-313, 172], "nice": false, "zero": false}, "axis": null}}},
{"data": {"values": [{"label": "PL_30_200"}]}, "mark": {"type": "text", "align": "left", "baseline": "middle", "font": "Liberation Sans", "fontSize": 18, "color": "black"},
 "encoding": {"x": {"datum": 40.5, "type": "quantitative", "scale": {"domain": [40, -40], "nice": false, "zero": false}},
  "y": {"datum": 39, "type": "quantitative", "scale": {"domain": [-313, 172], "nice": false, "zero": false}, "axis": null},
  "text": {"field": "label"}}}
]},
{"layer": [
{"data": {"name": "PL_120_200"}, "mark": {"type": "line", "color": "black", "strokeWidth": 1.1},
 "encoding": {"x": {"field": "x", "type": "quantitative", "scale": {"domain": [40, -40], "nice": false, "zero": false}, "axis": {"values": [40,30,20,10,0,-10,-20,-30,-40], "labelExpr": "datum.value % 20 === 0 ? toString(datum.value) : ''", "title": "δ (ppm)", "labelFlush": false, "labelOverlap": false}},
  "y": {"field": "y", "type": "quantitative", "scale": {"domain": [-135, 350], "nice": false, "zero": false}, "axis": null}}},
{"data": {"values": [{"label": "PL_120_200"}]}, "mark": {"type": "text", "align": "left", "baseline": "middle", "font": "Liberation Sans", "fontSize": 18, "color": "black"},
 "encoding": {"x": {"datum": 41.1, "type": "quantitative", "scale": {"domain": [40, -40], "nice": false, "zero": false}},
  "y": {"datum": 33, "type": "quantitative", "scale": {"domain": [-135, 350], "nice": false, "zero": false}, "axis": null},
  "text": {"field": "label"}}}
]},
{"layer": [
{"data": {"name": "PL_480_200"}, "mark": {"type": "line", "color": "black", "strokeWidth": 1.1},
 "encoding": {"x": {"field": "x", "type": "quantitative", "scale": {"domain": [40, -40], "nice": false, "zero": false}, "axis": {"values": [40,30,20,10,0,-10,-20,-30,-40], "labelExpr": "datum.value % 20 === 0 ? toString(datum.value) : ''", "title": "δ (ppm)", "labelFlush": false, "labelOverlap": false}},
  "y": {"field": "y", "type": "quantitative", "scale": {"domain": [-18, 467], "nice": false, "zero": false}, "axis": null}}},
{"data": {"values": [{"label": "PL_480_200"}]}, "mark": {"type": "text", "align": "left", "baseline": "middle", "font": "Liberation Sans", "fontSize": 18, "color": "black"},
 "encoding": {"x": {"datum": 40.5, "type": "quantitative", "scale": {"domain": [40, -40], "nice": false, "zero": false}},
  "y": {"datum": 44, "type": "quantitative", "scale": {"domain": [-18, 467], "nice": false, "zero": false}, "axis": null},
  "text": {"field": "label"}}}
]}
]
}
]
}
],
"config": {
"view": {"stroke": null},
"axis": {"grid": false, "domainColor": "black", "domainWidth": 1.5, "tickColor": "black", "tickWidth": 1.2, "tickSize": 4, "labelColor": "black", "labelFont": "Liberation Sans", "labelFontSize": 20, "labelPadding": 3, "titleFont": "Liberation Sans", "titleFontSize": 25, "titleFontWeight": "normal", "titleColor": "black", "titlePadding": 20}
}
}
